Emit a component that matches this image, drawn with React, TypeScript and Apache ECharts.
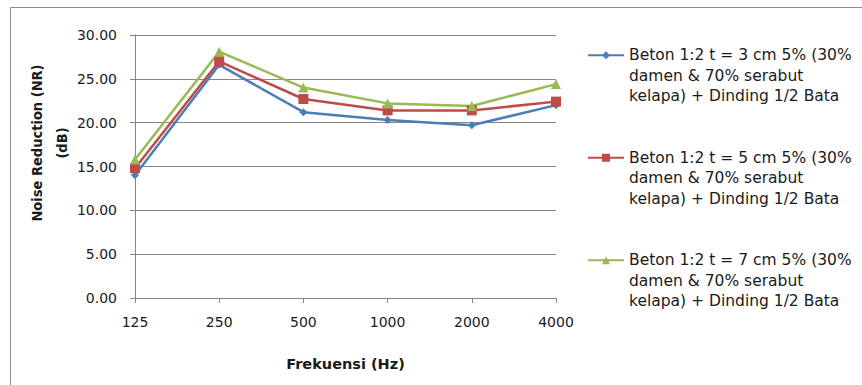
import React, { useEffect, useRef } from "react";
import * as echarts from "echarts";

const categories = ["125", "250", "500", "1000", "2000", "4000"];
const seriesNames = [
  "Beton 1:2 t = 3 cm 5% (30%\ndamen & 70% serabut\nkelapa) + Dinding 1/2 Bata",
  "Beton 1:2 t = 5 cm 5% (30%\ndamen & 70% serabut\nkelapa) + Dinding 1/2 Bata",
  "Beton 1:2 t = 7 cm 5% (30%\ndamen & 70% serabut\nkelapa) + Dinding 1/2 Bata",
];
const t3 = [14.0, 26.6, 21.2, 20.3, 19.7, 22.0];
const t5 = [14.8, 27.0, 22.7, 21.4, 21.4, 22.4];
const t7 = [15.8, 28.1, 24.0, 22.2, 21.9, 24.4];
const yTitle = ["Noise Reduction (NR)", "(dB)"];
const xTitle = "Frekuensi (Hz)";

const colors = ["#4A7EBB", "#BE4B48", "#98B954"];
const symbols = ["diamond", "rect", "triangle"];
const symbolSizes = [8, 10, 10];

export default function App() {
  const ref = useRef<HTMLDivElement>(null);
  useEffect(() => {
    if (!ref.current) return;
    const chart = echarts.init(ref.current, undefined, { renderer: "svg" });
    const data = [t3, t5, t7];
    const tickFont = "'DejaVu Sans', Verdana, sans-serif";
    chart.setOption({
      animation: false,
      backgroundColor: "#ffffff",
      grid: { left: 135, top: 35, right: 306, bottom: 87, containLabel: false },
      xAxis: {
        type: "category",
        data: categories,
        boundaryGap: false,
        name: xTitle,
        nameLocation: "middle",
        nameGap: 58,
        nameTextStyle: { fontFamily: tickFont, fontWeight: "bold", fontSize: 14.5, color: "#1a1a1a" },
        axisLine: { lineStyle: { color: "#868686", width: 1 } },
        axisTick: { show: true, length: 5, lineStyle: { color: "#868686" } },
        axisLabel: { fontFamily: tickFont, fontSize: 14, color: "#1a1a1a", margin: 17 },
        splitLine: { show: false },
      },
      yAxis: {
        type: "value",
        min: 0,
        max: 30,
        interval: 5,
        axisLine: { show: true, lineStyle: { color: "#868686", width: 1 } },
        axisTick: { show: true, length: 5, lineStyle: { color: "#868686" } },
        axisLabel: {
          fontFamily: tickFont,
          fontSize: 14,
          color: "#1a1a1a",
          margin: 18,
          formatter: (v: number) => v.toFixed(2),
        },
        splitLine: { show: true, lineStyle: { color: "#878787", width: 1 } },
      },
      legend: {
        orient: "vertical",
        left: 587,
        top: 4,
        padding: 0,
        itemWidth: 36,
        itemHeight: 10,
        itemGap: 0,
        formatter: (name: string) => "\n\n" + name,
        textStyle: {
          fontFamily: "'DejaVu Sans', sans-serif",
          fontSize: 15.5,
          lineHeight: 20.5,
          color: "#1a1a1a",
        },
        data: seriesNames,
      },
      graphic: [
        {
          type: "rect",
          shape: { x: 10.5, y: 7.5, width: 900, height: 420 },
          style: { fill: "none", stroke: "#8c8c8c", lineWidth: 1 },
          silent: true,
          z: -10,
        },
        {
          type: "text",
          x: 37,
          y: 143,
          rotation: Math.PI / 2,
          style: {
            text: yTitle[0],
            fontFamily: "'Liberation Sans Narrow', 'DejaVu Sans Condensed', sans-serif",
            fontWeight: "bold",
            fontSize: 14.5,
            fill: "#1a1a1a",
            align: "center",
            verticalAlign: "middle",
          },
        },
        {
          type: "text",
          x: 62,
          y: 143,
          rotation: Math.PI / 2,
          style: {
            text: yTitle[1],
            fontFamily: "'Liberation Sans Narrow', 'DejaVu Sans Condensed', sans-serif",
            fontWeight: "bold",
            fontSize: 14.5,
            fill: "#1a1a1a",
            align: "center",
            verticalAlign: "middle",
          },
        },
      ],
      series: data.map((d, i) => ({
        name: seriesNames[i],
        type: "line",
        data: d,
        symbol: symbols[i],
        symbolSize: symbolSizes[i],
        showAllSymbol: true,
        lineStyle: { color: colors[i], width: 2.5 },
        itemStyle: { color: colors[i] },
        emphasis: { disabled: true },
      })),
    });
    return () => chart.dispose();
  }, []);
  return (
    <div
      ref={ref}
      style={{ position: "absolute", left: 0, top: 0, width: 862, height: 385 }}
    />
  );
}
